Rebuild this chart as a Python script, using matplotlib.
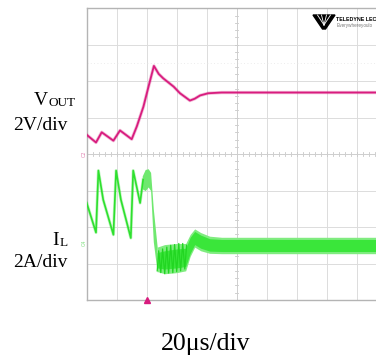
import numpy as np
import matplotlib
matplotlib.use("Agg")
import matplotlib.pyplot as plt
from matplotlib.patches import Polygon

W, H = 376, 358

# Output voltage trace (x in divisions, y in divisions from bottom of screen)
vout_t = [0, 0.31, 0.5, 0.89, 1.11, 1.5, 1.67, 1.89, 2.06, 2.24, 2.4, 2.55, 2.9,
          3.11, 3.44, 3.6, 3.78, 4.05, 4.5, 9.7]
vout_v = [4.53, 4.32, 4.60, 4.37, 4.65, 4.41, 4.76, 5.30, 5.85, 6.42, 6.2, 6.08, 5.85,
          5.67, 5.47, 5.52, 5.61, 5.67, 5.69, 5.69]

# Inductor current: startup sawtooth
il_t = [0, 0.31, 0.39, 0.55, 0.89, 0.98, 1.14, 1.47, 1.55, 1.78, 1.88]
il_v = [2.66, 1.85, 3.55, 2.75, 1.79, 3.55, 2.75, 1.70, 3.55, 2.66, 3.3]

# noisy top before the drop, and the drop itself (envelopes)
top_t = [1.85, 1.95, 2.05, 2.13, 2.22, 2.35]
top_hi = [3.40, 3.58, 3.60, 3.50, 2.50, 1.45]
top_lo = [3.05, 3.00, 3.10, 3.00, 1.60, 0.75]

# zigzag right after the drop
zz_t = [2.35, 2.40, 2.47, 2.53, 2.60, 2.67, 2.73, 2.80, 2.87, 2.93, 3.00, 3.07,
        3.13, 3.20, 3.27, 3.33]
zz_v = [0.80, 1.35, 0.75, 1.40, 0.72, 1.45, 0.74, 1.50, 0.75, 1.52, 0.78, 1.55,
        0.80, 1.55, 0.85, 1.50]

# ripple band envelope after regulation starts
band_t = [2.35, 2.6, 3.0, 3.3, 3.45, 3.6, 3.8, 4.1, 4.5, 9.7]
band_hi = [1.45, 1.52, 1.55, 1.55, 1.80, 1.95, 1.85, 1.75, 1.72, 1.72]
band_lo = [0.78, 0.72, 0.75, 0.80, 1.20, 1.45, 1.35, 1.28, 1.27, 1.27]
core_hi = [1.30, 1.35, 1.40, 1.42, 1.72, 1.88, 1.78, 1.68, 1.66, 1.66]
core_lo = [0.88, 0.85, 0.88, 0.92, 1.28, 1.52, 1.42, 1.34, 1.33, 1.33]

MAG = "#d81c7e"
GRN = "#2ee02e"
GRID = "#dcdcdc"
FRAME = "#b4b4b4"


def fx(px):
    return px / W


def fy(py):
    return 1 - py / H


fig = plt.figure(figsize=(W / 100, H / 100), dpi=100)
fig.patch.set_facecolor("white")

x0, y_top, y_bot = 86.7, 8.3, 300.0
div_w = 30.0
ax = fig.add_axes([fx(x0), fy(y_bot), 10 * div_w / W, (y_bot - y_top) / H])
ax.set_xlim(0, 10)
ax.set_ylim(0, 8)
ax.set_xticks([])
ax.set_yticks([])
for side in ["left", "top", "bottom"]:
    ax.spines[side].set_color(FRAME)
    ax.spines[side].set_linewidth(1.0)
ax.spines["right"].set_visible(False)

# graticule
for i in range(1, 10):
    ax.axvline(i, color=GRID, lw=0.7, zorder=0)
for j in range(1, 8):
    ax.axhline(j, color=GRID, lw=0.7, zorder=0)
ax.axhline(6.5, color="#e6e6e6", lw=0.6, ls=(0, (1, 3)), zorder=0)
for k in np.arange(0.2, 10, 0.2):
    ax.plot([k, k], [3.94, 4.06], color="#c8c8c8", lw=0.6, zorder=0)
for k in np.arange(0.2, 8, 0.2):
    ax.plot([4.95, 5.05], [k, k], color="#c8c8c8", lw=0.6, zorder=0)
ax.axhline(4, color="#cfcfcf", lw=0.7, zorder=0)
ax.axvline(5, color="#cfcfcf", lw=0.7, zorder=0)

# output voltage
ax.plot(vout_t, vout_v, color=MAG, lw=2.4, alpha=0.3, solid_joinstyle="round", zorder=3)
ax.plot(vout_t, vout_v, color=MAG, lw=1.3, solid_joinstyle="round", zorder=4)

# inductor current
ax.plot(il_t, il_v, color=GRN, lw=2.2, alpha=0.3, zorder=3)
ax.plot(il_t, il_v, color=GRN, lw=1.2, zorder=4)
ax.fill_between(top_t, top_lo, top_hi, color="#6fe86f", lw=0, zorder=3)
ax.fill_between(band_t, band_lo, band_hi, color="#80ec80", lw=0, zorder=3)
ax.fill_between(band_t, core_lo, core_hi, color="#3ae63a", lw=0, zorder=3)
ax.plot(zz_t, zz_v, color="#22d622", lw=0.9, zorder=4)

# channel ground markers and trigger position
fig.text(fx(84), fy(154), "C2", color="#e080b0", fontsize=3.5, rotation=90,
         ha="center", va="center")
fig.text(fx(84), fy(243), "C4", color="#80e080", fontsize=3.5, rotation=90,
         ha="center", va="center")
ax.plot([2.0], [0.0], marker="^", color=MAG, ms=4, clip_on=False, zorder=5)

# scope logo
icon = [(313, 15), (335, 15), (325.5, 29), (322.5, 29)]
fig.patches.append(Polygon([(fx(px), fy(py)) for px, py in icon], closed=True,
                           transform=fig.transFigure, color="black"))
for px in [317.5, 321.5, 326.5, 330.5]:
    fig.add_artist(plt.Line2D([fx(px), fx(324)], [fy(15), fy(25)],
                              transform=fig.transFigure, color="white", lw=0.6))
fig.text(fx(336.5), fy(21), "TELEDYNE LECR", fontsize=3.8, fontweight="bold",
         family=["Liberation Sans", "DejaVu Sans"], color="black", va="baseline")
fig.text(fx(336.5), fy(27.5), "Everywhereyoulo", fontsize=3.3, color="#777777",
         family=["Liberation Sans", "DejaVu Sans"], va="baseline")

# channel labels
serif = ["Liberation Serif", "DejaVu Serif"]
fig.text(fx(34), fy(105), "V", fontsize=14, family=serif, va="baseline")
fig.text(fx(48.5), fy(106.5), "OUT", fontsize=9.5, family=serif, va="baseline")
fig.text(fx(52), fy(245), "I", fontsize=14, family=serif, va="baseline")
fig.text(fx(59.5), fy(246.5), "L", fontsize=9.5, family=serif, va="baseline")
fig.text(fx(13), fy(130), "2V/div", fontsize=14, family=serif, va="baseline")
fig.text(fx(13), fy(267), "2A/div", fontsize=14, family=serif, va="baseline")
fig.text(fx(206), fy(350), "20\u03bcs/div", fontsize=18.5, family=serif,
         ha="center", va="baseline")

fig.savefig("out.png", dpi=100)
